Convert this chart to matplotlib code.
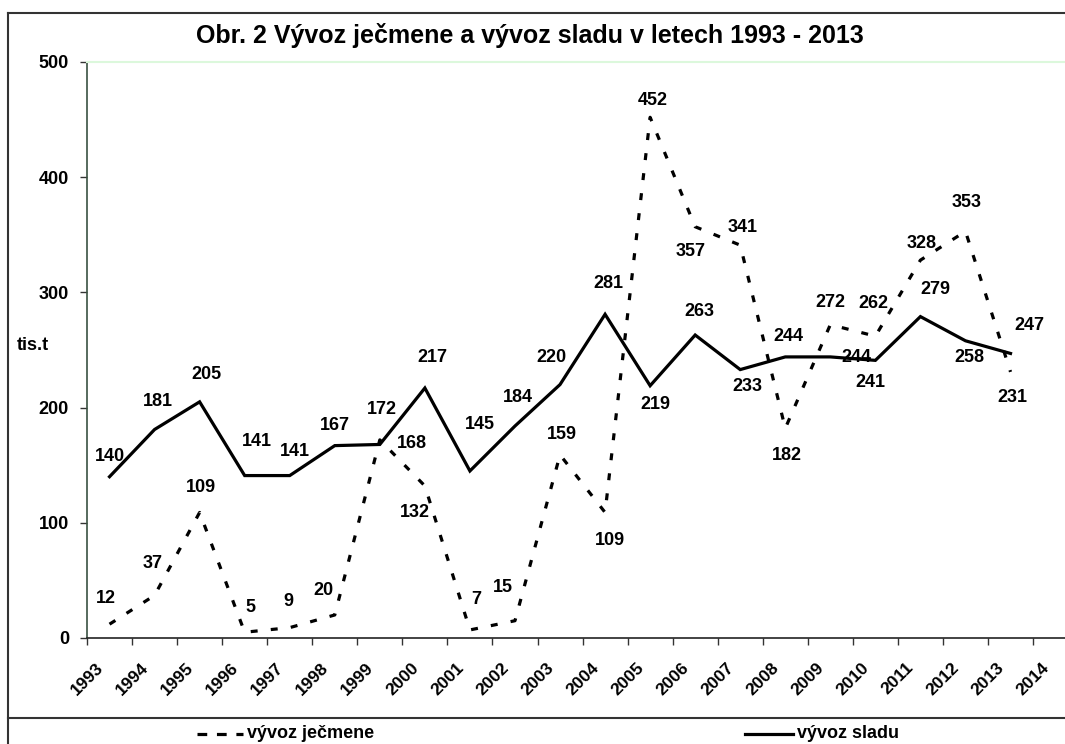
import matplotlib
matplotlib.use("Agg")
import matplotlib.pyplot as plt
from matplotlib.lines import Line2D

plt.rcParams['font.family'] = ['Liberation Sans', 'DejaVu Sans']
plt.rcParams['lines.scale_dashes'] = False

# ---- data ----
years = [str(y) for y in range(1993, 2015)]          # tick labels
slad = [140, 181, 205, 141, 141, 167, 168, 217, 145, 184, 220,
        281, 219, 263, 233, 244, 244, 241, 279, 258, 247]
jecmen = [12, 37, 109, 5, 9, 20, 172, 132, 7, 15, 159,
          109, 452, 357, 341, 182, 272, 262, 328, 353, 231]
title = "Obr. 2 Vývoz ječmene a vývoz sladu v letech 1993 - 2013"
ylabel = "tis.t"
name_jecmen = "vývoz ječmene"
name_slad = "vývoz sladu"

# label offsets (pixels, dx, dy with dy positive = down)
off_slad = [(0, -20), (3, -28), (7, -27), (12, -34), (5, -24), (0, -20), (32, -1),
            (7, -31), (10, -46), (3, -29), (-9, -27), (3, -31), (5, 19), (4, -24),
            (7, 17), (3, -20), (26, 1), (-5, 22), (15, -27), (4, 17), (19, -28)]
off_jecmen = [(-4, -26), (-2, -32), (1, -25), (6, -25), (-1, -26), (-11, -24), (2, -30),
              (-10, 27), (6, -30), (-12, -33), (2, -20), (5, 28), (3, -17), (-5, 25),
              (2, -18), (2, 27), (0, -22), (-2, -33), (1, -17), (1, -29), (2, 26)]

W, H = 1065, 744
fig = plt.figure(figsize=(W / 100, H / 100), dpi=100)
fig.patch.set_facecolor('white')

left, top, bottom, right = 87, 62, 638, 1065
ax = fig.add_axes([left / W, (H - bottom) / H, (right - left) / W, (bottom - top) / H])
ax.set_facecolor('white')

xpos = [i + 0.5 for i in range(len(slad))]
lw = 2.3
ax.plot(xpos, jecmen, color='black', lw=lw, ls=(0, (5.0, 9.5)), solid_capstyle='butt',
        dash_capstyle='butt', clip_on=False)
ax.plot(xpos, slad, color='black', lw=lw, solid_joinstyle='miter', clip_on=False)

fs = 13
px2pt = 72 / 100
for x, v, (dx, dy) in zip(xpos, slad, off_slad):
    ax.annotate(str(v), (x, v), xytext=(dx * px2pt, -dy * px2pt), textcoords='offset points',
                ha='center', va='center', fontsize=fs, fontweight='bold')
for x, v, (dx, dy) in zip(xpos, jecmen, off_jecmen):
    ax.annotate(str(v), (x, v), xytext=(dx * px2pt, -dy * px2pt), textcoords='offset points',
                ha='center', va='center', fontsize=fs, fontweight='bold')

ax.set_xlim(0, (right - left) / 45.05)
ax.set_ylim(0, 500)
ax.set_xticks(range(len(years)))
ax.set_xticklabels(years, rotation=45, ha='center', va='top', fontsize=12.5, fontweight='bold')
ax.set_yticks(range(0, 501, 100))
ax.set_yticklabels([str(v) for v in range(0, 501, 100)], fontsize=fs, fontweight='bold')
ax.tick_params(axis='x', direction='out', length=5, width=1, color='#333333', pad=11)
ax.tick_params(axis='y', direction='out', length=5, width=1, color='#333333', pad=8)

ax.spines['right'].set_visible(False)
ax.spines['top'].set_color('#dcf8dc')
ax.spines['top'].set_linewidth(1.5)
ax.spines['left'].set_color('#3a5242')
ax.spines['left'].set_linewidth(1.2)
ax.spines['bottom'].set_color('#222222')
ax.spines['bottom'].set_linewidth(1.2)

# title and axis label
fig.text(530 / W, 1 - 36 / H, title, ha='center', va='center', fontsize=18, fontweight='bold')
fig.text(17 / W, 1 - 346 / H, ylabel, ha='left', va='center', fontsize=fs, fontweight='bold')

# outer frame and legend separator
frame_kw = dict(color='#333333', lw=1.5, transform=fig.transFigure)
fig.add_artist(Line2D([8 / W, 1], [1 - 13 / H, 1 - 13 / H], **frame_kw))
fig.add_artist(Line2D([8 / W, 8 / W], [1 - 13 / H, 0], **frame_kw))
fig.add_artist(Line2D([8 / W, 1], [1 - 718 / H, 1 - 718 / H], **frame_kw))

# legend
ly = 1 - 734 / H
fig.add_artist(Line2D([197 / W, 243 / W], [ly, ly], color='black', lw=lw,
                      ls=(0, (7.0, 7.0)), transform=fig.transFigure))
fig.text(247 / W, ly, name_jecmen, ha='left', va='center', fontsize=fs, fontweight='bold')
fig.add_artist(Line2D([745 / W, 793 / W], [ly, ly], color='black', lw=lw,
                      transform=fig.transFigure))
fig.text(797 / W, ly, name_slad, ha='left', va='center', fontsize=fs, fontweight='bold')

fig.savefig('out.png', dpi=100)
